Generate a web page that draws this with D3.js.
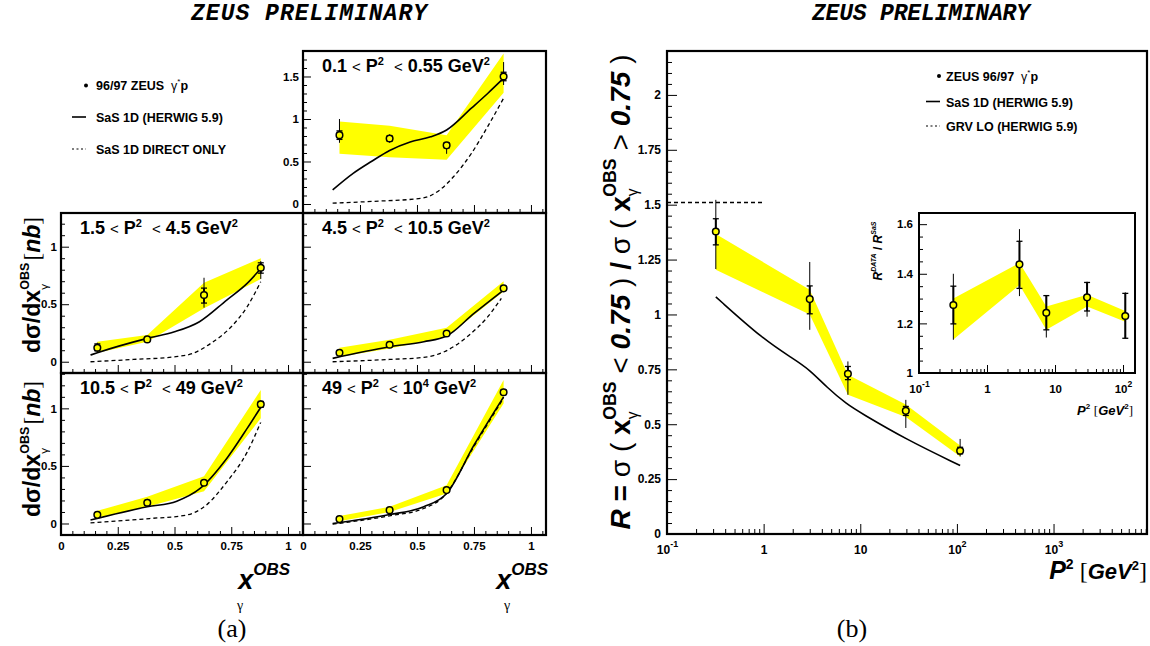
<!DOCTYPE html>
<html><head><meta charset="utf-8">
<script src="https://cdn.jsdelivr.net/npm/d3@7"></script>
<style>html,body{margin:0;padding:0;background:#fff;}svg{display:block;}text{white-space:pre;}</style>
</head><body>
<svg id="c" width="1150" height="646"></svg>
<script>
// ================= DATA: panel (a) =================
const xObs = [0.16, 0.38, 0.63, 0.88];
const binLo = ["0.1", "1.5", "4.5", "10.5", "49"];
const binHi = ["0.55", "4.5", "10.5", "49", "10"];
const binHiSup = ["", "", "", "", "4"];
const sigma = [
  [0.81, 0.77, 0.69, 1.50],
  [0.122, 0.194, 0.58, 0.817],
  [0.078, 0.148, 0.246, 0.638],
  [0.075, 0.18, 0.354, 1.035],
  [0.038, 0.116, 0.29, 1.14]
];
const sigmaTotHi = [
  [1.00, 0.82, 0.73, 1.67], [0.165, 0.225, 0.73, 0.875], [0.095, 0.165, 0.265, 0.66],
  [0.09, 0.215, 0.375, 1.07], [0.05, 0.13, 0.305, 1.17]
];
const sigmaTotLo = [
  [0.72, 0.72, 0.59, 1.40], [0.085, 0.165, 0.47, 0.72], [0.062, 0.132, 0.228, 0.618],
  [0.06, 0.145, 0.335, 1.00], [0.026, 0.102, 0.275, 1.11]
];
const sigmaStatHi = [
  [0.86, 0.80, 0.72, 1.55], [0.155, 0.21, 0.64, 0.86], [0.09, 0.16, 0.26, 0.655],
  [0.085, 0.20, 0.37, 1.06], [0.046, 0.125, 0.30, 1.16]
];
const sigmaStatLo = [
  [0.76, 0.74, 0.66, 1.45], [0.095, 0.18, 0.51, 0.77], [0.066, 0.136, 0.232, 0.622],
  [0.065, 0.16, 0.34, 1.01], [0.03, 0.107, 0.28, 1.12]
];
const sysHi = [
  [0.97, 0.92, 0.81, 1.77], [0.174, 0.232, 0.687, 0.90], [0.122, 0.19, 0.296, 0.70],
  [0.11, 0.232, 0.41, 1.16], [0.064, 0.145, 0.333, 1.246]
];
const sysLo = [
  [0.59, 0.55, 0.52, 1.31], [0.078, 0.174, 0.464, 0.72], [0.043, 0.116, 0.217, 0.61],
  [0.05, 0.145, 0.28, 0.913], [0.02, 0.10, 0.26, 1.043]
];
const sasX = [
  [0.13, 0.22, 0.30, 0.38, 0.47, 0.56, 0.63, 0.74, 0.81, 0.88],
  [0.13, 0.16, 0.38, 0.50, 0.61, 0.73, 0.82, 0.88],
  [0.13, 0.38, 0.53, 0.63, 0.75, 0.88],
  [0.13, 0.38, 0.51, 0.61, 0.73, 0.82, 0.88],
  [0.13, 0.38, 0.53, 0.63, 0.75, 0.88]
];
const sasY = [
  [0.165, 0.36, 0.50, 0.63, 0.73, 0.79, 0.87, 1.13, 1.30, 1.48],
  [0.058, 0.078, 0.203, 0.26, 0.348, 0.536, 0.681, 0.81],
  [0.029, 0.13, 0.174, 0.223, 0.42, 0.623],
  [0.03, 0.145, 0.194, 0.30, 0.565, 0.826, 1.01],
  [0.0, 0.078, 0.145, 0.26, 0.68, 1.10]
];
const dirX = [
  [0.13, 0.30, 0.52, 0.60, 0.66, 0.74, 0.81, 0.88],
  [0.13, 0.32, 0.50, 0.58, 0.66, 0.75, 0.82, 0.88],
  [0.13, 0.38, 0.53, 0.62, 0.72, 0.81, 0.87],
  [0.13, 0.39, 0.55, 0.64, 0.73, 0.82, 0.88],
  [0.13, 0.38, 0.53, 0.62, 0.75, 0.88]
];
const dirY = [
  [0.01, 0.03, 0.067, 0.165, 0.32, 0.60, 0.91, 1.245],
  [0.0, 0.02, 0.043, 0.072, 0.16, 0.304, 0.478, 0.696],
  [0.0, 0.02, 0.038, 0.087, 0.217, 0.39, 0.55],
  [0.006, 0.043, 0.072, 0.16, 0.36, 0.62, 0.88],
  [-0.006, 0.067, 0.13, 0.24, 0.67, 1.09]
];
const xTicksA = [0, 0.25, 0.5, 0.75, 1];
const xTickLabelsA = ["0", "0.25", "0.5", "0.75", "1"];

// ================= DATA: panel (b) =================
const p2 = [0.32, 3.0, 7.45, 29.6, 108];
const ratio = [1.378, 1.07, 0.73, 0.561, 0.379];
const ratioStatHi = [1.436, 1.13, 0.763, 0.581, 0.395];
const ratioStatLo = [1.317, 1.003, 0.703, 0.54, 0.365];
const ratioTotHi = [1.522, 1.239, 0.786, 0.611, 0.433];
const ratioTotLo = [1.207, 0.93, 0.634, 0.483, 0.353];
const ratioSysHi = [1.367, 1.112, 0.725, 0.59, 0.403];
const ratioSysLo = [1.204, 1.0, 0.634, 0.533, 0.353];
const sasP2 = [0.32, 1, 2, 3, 4.5, 7.3, 10, 30, 108];
const sasR = [1.08, 0.885, 0.80, 0.748, 0.668, 0.59, 0.553, 0.43, 0.312];
const grvP2 = [0.1, 1];
const grvR = [1.51, 1.51];
const yTicksB = [0, 0.25, 0.5, 0.75, 1, 1.25, 1.5, 1.75, 2];
const yTickLabelsB = ["0", "0.25", "0.5", "0.75", "1", "1.25", "1.5", "1.75", "2"];
const xTicksB = [0.1, 1, 10, 100, 1000];
// inset: R(data)/R(SaS)
const dRatio = [1.274, 1.438, 1.243, 1.305, 1.23];
const dRatioStatHi = [1.35, 1.531, 1.312, 1.365, 1.321];
const dRatioStatLo = [1.198, 1.341, 1.174, 1.25, 1.14];
const dRatioTotHi = [1.40, 1.58, 1.314, 1.368, 1.325];
const dRatioTotLo = [1.134, 1.31, 1.143, 1.227, 1.14];
const dRatioSysHi = [1.30, 1.444, 1.268, 1.315, 1.25];
const dRatioSysLo = [1.135, 1.355, 1.174, 1.268, 1.207];
const yTicksIn = [1, 1.2, 1.4, 1.6];
const yTickLabelsIn = ["1", "1.2", "1.4", "1.6"];
const xTicksIn = [0.1, 1, 10, 100];

// ================= RENDER =================
const SANS = "'Liberation Sans', Arial, Helvetica, sans-serif";
const SERIF = "'Liberation Serif', 'Times New Roman', serif";
const MONO = "'Liberation Mono', 'Courier New', monospace";
const YEL = "#ffff00";
const svg = d3.select("#c");

function rich(parent, x, y, parts, opt) {
  opt = opt || {};
  const t = parent.append("text").attr("x", x).attr("y", y)
    .attr("font-family", opt.ff || SANS).attr("fill", "#000");
  if (opt.anchor) t.attr("text-anchor", opt.anchor);
  if (opt.rotate) t.attr("transform", `rotate(${opt.rotate},${x},${y})`);
  let cur = 0;
  for (const p of parts) {
    const off = p.sh || 0;
    const ts = t.append("tspan").attr("dy", off - cur)
      .attr("font-size", p.fs || opt.fs)
      .attr("font-weight", p.w || opt.w || "bold")
      .attr("font-style", p.i ? "italic" : "normal")
      .text(p.t);
    if (p.ff) ts.attr("font-family", p.ff);
    if (p.dx) ts.attr("dx", p.dx);
    cur = off;
  }
  if (opt.fit) {
    const L = t.node().getComputedTextLength();
    if (L > 0) {
      const f = opt.fit / L;
      t.selectAll("tspan").each(function () {
        const s = d3.select(this);
        s.attr("font-size", +s.attr("font-size") * f).attr("dy", +s.attr("dy") * f);
        if (s.attr("dx")) s.attr("dx", +s.attr("dx") * f);
      });
    }
  }
  return t;
}

function styleAxis(g, fs) {
  g.select(".domain").remove();
  g.selectAll(".tick line").attr("stroke", "#000").attr("stroke-width", 1);
  g.attr("font-family", SANS).attr("font-size", fs).attr("font-weight", "bold");
  g.selectAll(".tick text").attr("fill", "#000");
}

function logLabel(fs) {
  return function (d) {
    const t = d3.select(this);
    const e = Math.round(Math.log10(d));
    if (e === 0) { t.text("1"); return; }
    if (e === 1) { t.text("10"); return; }
    t.text("");
    t.append("tspan").text("10");
    t.append("tspan").attr("dy", -fs * 0.55).attr("font-size", fs * 0.75).text(e);
  };
}

function drawErrors(g, xs, ys, x, y, totLo, totHi, stLo, stHi, r) {
  xs.forEach((xv, j) => {
    const px = x(xv);
    g.append("line").attr("x1", px).attr("x2", px).attr("y1", y(totLo[j])).attr("y2", y(totHi[j]))
      .attr("stroke", "#000").attr("stroke-width", 1);
    g.append("line").attr("x1", px).attr("x2", px).attr("y1", y(stLo[j])).attr("y2", y(stHi[j]))
      .attr("stroke", "#000").attr("stroke-width", 2);
    [stLo[j], stHi[j]].forEach(v => {
      g.append("line").attr("x1", px - 3).attr("x2", px + 3).attr("y1", y(v)).attr("y2", y(v))
        .attr("stroke", "#000").attr("stroke-width", 1.3);
    });
  });
  g.selectAll(null).data(d3.zip(xs, ys)).enter().append("circle")
    .attr("cx", d => x(d[0])).attr("cy", d => y(d[1])).attr("r", r)
    .attr("fill", YEL).attr("stroke", "#000").attr("stroke-width", 1.5);
}

// ---------- titles ----------
svg.append("text").attr("x", 309).attr("y", 20).attr("text-anchor", "middle")
  .attr("font-family", MONO).attr("font-weight", "bold").attr("font-style", "italic")
  .attr("font-size", 23).attr("textLength", 236).attr("lengthAdjust", "spacing").text("ZEUS PRELIMINARY");
svg.append("text").attr("x", 921).attr("y", 20).attr("text-anchor", "middle")
  .attr("font-family", MONO).attr("font-weight", "bold").attr("font-style", "italic")
  .attr("font-size", 23).attr("textLength", 218).attr("lengthAdjust", "spacing").text("ZEUS PRELIMINARY");
svg.append("text").attr("x", 232).attr("y", 637).attr("text-anchor", "middle")
  .attr("font-family", SERIF).attr("font-size", 26).text("(a)");
svg.append("text").attr("x", 852).attr("y", 637).attr("text-anchor", "middle")
  .attr("font-family", SERIF).attr("font-size", 26).text("(b)");

// ---------- (a) legend ----------
const gA = svg.append("g");
gA.append("circle").attr("cx", 86).attr("cy", 85.5).attr("r", 2).attr("fill", "#000");
rich(gA, 96, 90, [{ t: "96/97 ZEUS  " }, { t: "γ", w: "normal" }, { t: "*", fs: 8, sh: -6, w: "normal" }, { t: "p" }], { fs: 12.5 });
gA.append("line").attr("x1", 72).attr("x2", 86).attr("y1", 117).attr("y2", 117).attr("stroke", "#000").attr("stroke-width", 1.6);
rich(gA, 96, 122, [{ t: "SaS 1D (HERWIG 5.9)" }], { fs: 12.5 });
gA.append("line").attr("x1", 72).attr("x2", 86).attr("y1", 149).attr("y2", 149).attr("stroke", "#000").attr("stroke-width", 1.2).attr("stroke-dasharray", "2,2.5");
rich(gA, 96, 154, [{ t: "SaS 1D DIRECT ONLY" }], { fs: 12.5 });

// ---------- (a) panels ----------
const boxes = [
  { l: 303, r: 546, t: 51, b: 213, yd: [-0.106, 1.8], yMaj: [0, 0.5, 1, 1.5], yLab: ["0", "0.5", "1", "1.5"], showY: true, showX: false },
  { l: 61, r: 303, t: 213, b: 373, yd: [-0.098, 1.293], yMaj: [0, 0.5, 1], yLab: ["0", "0.5", "1"], showY: true, showX: false },
  { l: 303, r: 546, t: 213, b: 373, yd: [-0.098, 1.293], yMaj: [0, 0.5, 1], yLab: ["0", "0.5", "1"], showY: false, showX: false },
  { l: 61, r: 303, t: 373, b: 535, yd: [-0.1, 1.307], yMaj: [0, 0.5, 1], yLab: ["0", "0.5", "1"], showY: true, showX: true },
  { l: 303, r: 546, t: 373, b: 535, yd: [-0.1, 1.307], yMaj: [0, 0.5, 1], yLab: ["0", "0.5", "1"], showY: false, showX: true }
];

boxes.forEach((b, i) => {
  const g = svg.append("g");
  const x = d3.scaleLinear().domain([0, 1.066]).range([b.l, b.r]);
  const y = d3.scaleLinear().domain(b.yd).range([b.b, b.t]);
  g.append("path").datum(d3.zip(xObs, sysLo[i], sysHi[i]))
    .attr("d", d3.area().x(d => x(d[0])).y0(d => y(d[1])).y1(d => y(d[2])))
    .attr("fill", YEL).attr("stroke", "none");
  const line = d3.line().x(d => x(d[0])).y(d => y(d[1])).curve(d3.curveMonotoneX);
  g.append("path").datum(d3.zip(dirX[i], dirY[i])).attr("d", line)
    .attr("fill", "none").attr("stroke", "#000").attr("stroke-width", 1.3).attr("stroke-dasharray", "4,3");
  g.append("path").datum(d3.zip(sasX[i], sasY[i])).attr("d", line)
    .attr("fill", "none").attr("stroke", "#000").attr("stroke-width", 1.6);
  drawErrors(g, xObs, sigma[i], x, y, sigmaTotLo[i], sigmaTotHi[i], sigmaStatLo[i], sigmaStatHi[i], 3.3);
  const xMin = d3.range(0, 1.0501, 0.05).filter(v => Math.abs(v / 0.25 - Math.round(v / 0.25)) > 1e-6);
  const ax1 = g.append("g").attr("transform", `translate(0,${b.b})`)
    .call(d3.axisBottom(x).tickValues(xMin).tickSize(-4).tickFormat(""));
  styleAxis(ax1, 11.5);
  const ax2 = g.append("g").attr("transform", `translate(0,${b.b})`)
    .call(d3.axisBottom(x).tickValues(xTicksA).tickSize(-8).tickPadding(7)
      .tickFormat((d, k) => b.showX ? xTickLabelsA[k] : ""));
  styleAxis(ax2, 11.5);
  const yMin = d3.range(Math.ceil(b.yd[0] * 10), Math.floor(b.yd[1] * 10) + 1).map(v => v / 10)
    .filter(v => Math.abs(v / 0.5 - Math.round(v / 0.5)) > 1e-6);
  const ay1 = g.append("g").attr("transform", `translate(${b.l},0)`)
    .call(d3.axisLeft(y).tickValues(yMin).tickSize(-4).tickFormat(""));
  styleAxis(ay1, 11.5);
  const ay2 = g.append("g").attr("transform", `translate(${b.l},0)`)
    .call(d3.axisLeft(y).tickValues(b.yMaj).tickSize(-8).tickPadding(4)
      .tickFormat((d, k) => b.showY ? b.yLab[k] : ""));
  styleAxis(ay2, 11.5);
  g.append("rect").attr("x", b.l).attr("y", b.t).attr("width", b.r - b.l).attr("height", b.b - b.t)
    .attr("fill", "none").attr("stroke", "#000").attr("stroke-width", 2.2);
  const parts = [
    { t: binLo[i] + " " }, { t: "<", w: "normal", fs: 15 }, { t: " P" }, { t: "2", fs: 11, sh: -7 },
    { t: "  " }, { t: "<", w: "normal", fs: 15 }, { t: " " + binHi[i] }
  ];
  if (binHiSup[i]) parts.push({ t: binHiSup[i], fs: 11, sh: -7 });
  parts.push({ t: " GeV" }, { t: "2", fs: 11, sh: -7 });
  rich(g, b.l + 19, b.t + 21, parts, { fs: 18 });
});

// (a) y titles
[285, 449].forEach(cy => {
  rich(svg, 40, cy, [
    { t: "dσ/dx" }, { t: "γ", w: "normal", fs: 12, sh: 8 }, { t: "OBS", fs: 13, sh: -11, dx: -6 },
    { t: " ", fs: 8, sh: 0 }, { t: "[", w: "normal", ff: SERIF }, { t: "nb", i: 1 }, { t: "]", w: "normal", ff: SERIF }
  ], { fs: 24, anchor: "middle", rotate: -90, fit: 142 });
});
// (a) x titles
[[290, 240], [548, 507]].forEach(([xr, xg]) => {
  rich(svg, xr, 589, [{ t: "x", i: 1, fs: 27 }, { t: "OBS", i: 1, fs: 17, sh: -14 }], { anchor: "end" });
  svg.append("text").attr("x", xg).attr("y", 610).attr("text-anchor", "middle")
    .attr("font-family", SERIF).attr("font-size", 14).text("γ");
});

// ---------- (b) main ----------
const B = { l: 667, r: 1147, t: 51, b: 534 };
const gB = svg.append("g");
const xB = d3.scaleLog().domain([0.1, 9270]).range([B.l, B.r]);
const yB = d3.scaleLinear().domain([0, 2.2]).range([B.b, B.t]);
gB.append("path").datum(d3.zip(p2, ratioSysLo, ratioSysHi))
  .attr("d", d3.area().x(d => xB(d[0])).y0(d => yB(d[1])).y1(d => yB(d[2])))
  .attr("fill", YEL);
gB.append("path").datum(d3.zip(sasP2, sasR))
  .attr("d", d3.line().x(d => xB(d[0])).y(d => yB(d[1])).curve(d3.curveBasis))
  .attr("fill", "none").attr("stroke", "#000").attr("stroke-width", 1.6);
gB.append("path").datum(d3.zip(grvP2, grvR)).attr("d", d3.line().x(d => xB(d[0])).y(d => yB(d[1])))
  .attr("fill", "none").attr("stroke", "#000").attr("stroke-width", 1.3).attr("stroke-dasharray", "4,3");
drawErrors(gB, p2, ratio, xB, yB, ratioTotLo, ratioTotHi, ratioStatLo, ratioStatHi, 3.3);
{
  const minX = xB.ticks().filter(v => !xTicksB.some(m => Math.abs(m - v) / m < 1e-6));
  const a1 = gB.append("g").attr("transform", `translate(0,${B.b})`).call(d3.axisBottom(xB).tickValues(minX).tickSize(-5).tickFormat(""));
  styleAxis(a1, 12);
  const a2 = gB.append("g").attr("transform", `translate(0,${B.b})`).call(d3.axisBottom(xB).tickValues(xTicksB).tickSize(-10).tickPadding(11).tickFormat(""));
  styleAxis(a2, 12);
  a2.selectAll(".tick text").each(logLabel(12));
  const minY = d3.range(0, 45).map(v => v * 0.05).filter(v => v <= 2.2 && Math.abs(v / 0.25 - Math.round(v / 0.25)) > 1e-6);
  const a3 = gB.append("g").attr("transform", `translate(${B.l},0)`).call(d3.axisLeft(yB).tickValues(minY).tickSize(-5).tickFormat(""));
  styleAxis(a3, 12);
  const a4 = gB.append("g").attr("transform", `translate(${B.l},0)`).call(d3.axisLeft(yB).tickValues(yTicksB).tickSize(-10).tickPadding(6).tickFormat((d, k) => yTickLabelsB[k]));
  styleAxis(a4, 12);
  gB.append("rect").attr("x", B.l).attr("y", B.t).attr("width", B.r - B.l).attr("height", B.b - B.t)
    .attr("fill", "none").attr("stroke", "#000").attr("stroke-width", 2.2);
}
// (b) titles
rich(svg, 1147, 579, [
  { t: "P", i: 1, fs: 25 }, { t: "2", fs: 14, sh: -10 }, { t: " ", fs: 22 }, { t: "[", w: "normal", ff: SERIF, fs: 24 },
  { t: "GeV", i: 1, fs: 22 }, { t: "2", fs: 13, sh: -9 }, { t: "]", w: "normal", ff: SERIF, fs: 24, sh: 0 }
], { anchor: "end" });
const xgParts = (cmp) => [
  { t: "( ", w: "normal" }, { t: "x" }, { t: "γ", w: "normal", fs: 15, sh: 8 }, { t: "OBS", fs: 17, sh: -13, dx: -8 },
  { t: " " + cmp + " ", w: "normal", sh: 0 }, { t: "0.75", i: 1 }, { t: " )", w: "normal" }
];
rich(svg, 630, 292, [
  { t: "R", i: 1 }, { t: " = " }, { t: "σ ", w: "normal" }, ...xgParts("<"),
  { t: " / " }, { t: "σ ", w: "normal" }, ...xgParts(">")
], { fs: 27, anchor: "middle", rotate: -90, fit: 492 });

// (b) legend
const gL = svg.append("g");
gL.append("circle").attr("cx", 939).attr("cy", 76).attr("r", 2).attr("fill", "#000");
rich(gL, 946, 80.5, [{ t: "ZEUS 96/97  " }, { t: "γ", w: "normal" }, { t: "*", fs: 8, sh: -6, w: "normal" }, { t: "p" }], { fs: 12.5 });
gL.append("line").attr("x1", 926).attr("x2", 940).attr("y1", 101.5).attr("y2", 101.5).attr("stroke", "#000").attr("stroke-width", 1.6);
rich(gL, 946, 106.5, [{ t: "SaS 1D (HERWIG 5.9)" }], { fs: 12.5 });
gL.append("line").attr("x1", 926).attr("x2", 940).attr("y1", 126).attr("y2", 126).attr("stroke", "#000").attr("stroke-width", 1.2).attr("stroke-dasharray", "2,2.5");
rich(gL, 946, 130.5, [{ t: "GRV LO (HERWIG 5.9)" }], { fs: 12.5 });

// ---------- (b) inset ----------
const I = { l: 919, r: 1135, t: 213, b: 373 };
const gI = svg.append("g");
gI.append("rect").attr("x", I.l).attr("y", I.t).attr("width", I.r - I.l).attr("height", I.b - I.t).attr("fill", "#fff");
const xI = d3.scaleLog().domain([0.1, 150]).range([I.l, I.r]);
const yI = d3.scaleLinear().domain([1, 1.645]).range([I.b, I.t]);
gI.append("path").datum(d3.zip(p2, dRatioSysLo, dRatioSysHi))
  .attr("d", d3.area().x(d => xI(d[0])).y0(d => yI(d[1])).y1(d => yI(d[2])))
  .attr("fill", YEL);
drawErrors(gI, p2, dRatio, xI, yI, dRatioTotLo, dRatioTotHi, dRatioStatLo, dRatioStatHi, 3.3);
{
  const minX = xI.ticks().filter(v => !xTicksIn.some(m => Math.abs(m - v) / m < 1e-6));
  const a1 = gI.append("g").attr("transform", `translate(0,${I.b})`).call(d3.axisBottom(xI).tickValues(minX).tickSize(-4).tickFormat(""));
  styleAxis(a1, 11.5);
  const a2 = gI.append("g").attr("transform", `translate(0,${I.b})`).call(d3.axisBottom(xI).tickValues(xTicksIn).tickSize(-8).tickPadding(12).tickFormat(""));
  styleAxis(a2, 11.5);
  a2.selectAll(".tick text").each(logLabel(11.5));
  const minY = d3.range(0, 13).map(v => 1 + v * 0.05).filter(v => Math.abs(v / 0.2 - Math.round(v / 0.2)) > 1e-6);
  const a3 = gI.append("g").attr("transform", `translate(${I.l},0)`).call(d3.axisLeft(yI).tickValues(minY).tickSize(-4).tickFormat(""));
  styleAxis(a3, 11.5);
  const a4 = gI.append("g").attr("transform", `translate(${I.l},0)`).call(d3.axisLeft(yI).tickValues(yTicksIn).tickSize(-8).tickPadding(6).tickFormat((d, k) => yTickLabelsIn[k]));
  styleAxis(a4, 11.5);
  gI.append("rect").attr("x", I.l).attr("y", I.t).attr("width", I.r - I.l).attr("height", I.b - I.t)
    .attr("fill", "none").attr("stroke", "#000").attr("stroke-width", 2);
}
rich(svg, 882, 251, [
  { t: "R", i: 1 }, { t: "DATA", i: 1, fs: 7, sh: -6 }, { t: " / ", sh: 0 }, { t: "R", i: 1 }, { t: "SaS", i: 1, fs: 7, sh: -6 }
], { fs: 12, anchor: "middle", rotate: -90 });
rich(svg, 1133, 415, [
  { t: "P", i: 1 }, { t: "2", fs: 8, sh: -6 }, { t: " ", sh: 0 }, { t: "[", w: "normal", ff: SERIF },
  { t: "GeV", i: 1 }, { t: "2", fs: 8, sh: -6 }, { t: "]", w: "normal", ff: SERIF, sh: 0 }
], { fs: 13, anchor: "end" });
</script>
</body></html>
